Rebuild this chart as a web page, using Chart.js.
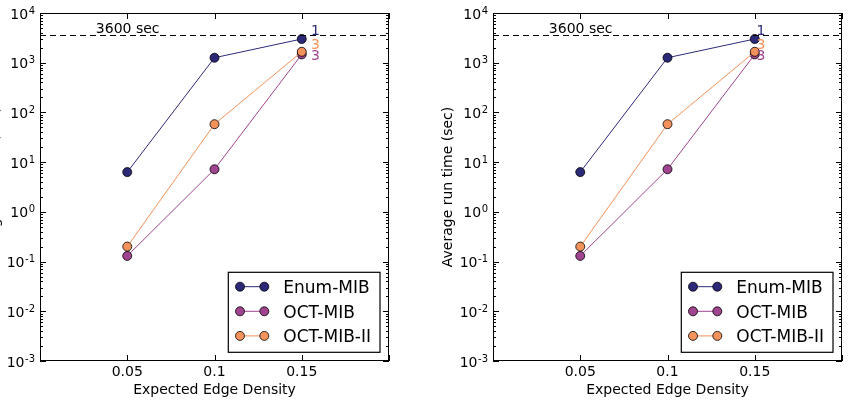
<!DOCTYPE html>
<html>
<head>
<meta charset="utf-8">
<script src="https://cdn.jsdelivr.net/npm/chart.js@4.4.1/dist/chart.umd.min.js"></script>
<style>
  html, body { margin: 0; padding: 0; background: #fff; overflow: hidden; }
  #wrap { position: relative; width: 848px; height: 400px; overflow: hidden; }
  .panel { position: absolute; top: 0; width: 453px; height: 400px; }
  #p1 { left: -58px; }
  #p2 { left: 395px; }
</style>
</head>
<body>
<div id="wrap">
  <div class="panel" id="p1"><canvas id="c1" width="453" height="400"></canvas></div>
  <div class="panel" id="p2"><canvas id="c2" width="453" height="400"></canvas></div>
</div>
<script>
// data
const densities = [0.05, 0.1, 0.15];
const enumMib = [6.3, 1260, 3000];
const octMib = [0.13, 7.2, 1470];
const octMib2 = [0.2, 58, 1660];
const seriesNames = ["Enum-MIB", "OCT-MIB", "OCT-MIB-II"];
const seriesColors = ["#2c2a78", "#a0448f", "#f3925a"];
const seriesOrder = [0, 2, 1]; // lower = drawn on top
const xTicks = [0.05, 0.1, 0.15];
const xTickLabels = ["0.05", "0.1", "0.15"];
const yExponents = [-3, -2, -1, 0, 1, 2, 3, 4];
const timeLimit = 3600;
const limitLabel = "3600 sec";
// end-of-line labels: text, y value, colour index
const endLabels = [["1", 4350, 0], ["3", 2270, 2], ["3", 1365, 1]];
const endLabelX = [0.1553, 0.1510];

const FONT = "'DejaVu Sans', sans-serif";

function pts(vals) {
    return densities.map((d, i) => ({ x: d, y: vals[i] }));
}

function makeDecorPlugin(panelIndex) {
    return {
        id: "decor" + panelIndex,
        afterDraw(chart) {
            const ctx = chart.ctx;
            const xs = chart.scales.x;
            const ys = chart.scales.y;
            const a = chart.chartArea;
            ctx.save();

            // dashed time limit line
            const yl = Math.round(ys.getPixelForValue(timeLimit)) + 0.5;
            ctx.strokeStyle = "#000";
            ctx.lineWidth = 1;
            ctx.setLineDash([6, 4]);
            ctx.beginPath();
            ctx.moveTo(a.left, yl);
            ctx.lineTo(a.right, yl);
            ctx.stroke();
            ctx.setLineDash([]);

            ctx.fillStyle = "#000";
            ctx.font = "14px " + FONT;
            ctx.textAlign = "left";
            ctx.textBaseline = "alphabetic";
            ctx.fillText(limitLabel, xs.getPixelForValue(0.032), yl - 2.5);

            // end labels
            ctx.textBaseline = "middle";
            endLabels.forEach(([t, v, c]) => {
                ctx.fillStyle = seriesColors[c];
                ctx.fillText(t, xs.getPixelForValue(endLabelX[panelIndex]), ys.getPixelForValue(v));
            });

            // frame
            ctx.strokeStyle = "#000";
            ctx.lineWidth = 1;
            ctx.strokeRect(a.left + 0.5, a.top + 0.5, a.right - a.left - 1, a.bottom - a.top - 1);

            // ticks inside, all sides
            ctx.beginPath();
            const xt = [0, ...xTicks, 0.2];
            xt.forEach((v) => {
                const px = Math.round(xs.getPixelForValue(v)) + 0.5;
                ctx.moveTo(px, a.bottom); ctx.lineTo(px, a.bottom - 6);
                ctx.moveTo(px, a.top); ctx.lineTo(px, a.top + 6);
            });
            yExponents.forEach((e) => {
                const py = Math.round(ys.getPixelForValue(Math.pow(10, e))) + 0.5;
                ctx.moveTo(a.left, py); ctx.lineTo(a.left + 6, py);
                ctx.moveTo(a.right, py); ctx.lineTo(a.right - 6, py);
                if (e < 4) {
                    for (let m = 2; m <= 9; m++) {
                        const pm = Math.round(ys.getPixelForValue(m * Math.pow(10, e))) + 0.5;
                        ctx.moveTo(a.left, pm); ctx.lineTo(a.left + 3, pm);
                        ctx.moveTo(a.right, pm); ctx.lineTo(a.right - 3, pm);
                    }
                }
            });
            ctx.stroke();

            // y tick labels 10^e
            ctx.fillStyle = "#000";
            ctx.textAlign = "right";
            ctx.textBaseline = "alphabetic";
            yExponents.forEach((e) => {
                const py = ys.getPixelForValue(Math.pow(10, e));
                const ex = String(e);
                ctx.font = "10px " + FONT;
                const ew = ctx.measureText(ex).width;
                const rx = a.left - 5;
                ctx.fillText(ex, rx, py + 0.5);
                ctx.font = "14px " + FONT;
                ctx.fillText("10", rx - ew - 0.5, py + 5.5);
            });

            // x tick labels
            ctx.textAlign = "center";
            ctx.font = "14px " + FONT;
            xTicks.forEach((v, i) => {
                ctx.fillText(xTickLabels[i], xs.getPixelForValue(v), a.bottom + 15);
            });

            // axis titles
            ctx.fillText("Expected Edge Density", (a.left + a.right) / 2, 394);
            ctx.save();
            ctx.translate(53, (a.top + a.bottom) / 2);
            ctx.rotate(-Math.PI / 2);
            ctx.textBaseline = "middle";
            ctx.fillText("Average run time (sec)", 0, 0);
            ctx.restore();

            // legend
            const lx = a.right - 160.7, ly = a.bottom - 88.7;
            const lw = 151.7, lh = 80;
            ctx.fillStyle = "#fff";
            ctx.fillRect(lx, ly, lw, lh);
            ctx.strokeStyle = "#000";
            ctx.lineWidth = 1.2;
            ctx.strokeRect(lx, ly, lw, lh);
            seriesNames.forEach((name, i) => {
                const ry = ly + 14.4 + i * 24.6;
                const m1 = lx + 11.7, m2 = lx + 36;
                ctx.strokeStyle = seriesColors[i];
                ctx.lineWidth = 1;
                ctx.beginPath();
                ctx.moveTo(m1, ry); ctx.lineTo(m2, ry);
                ctx.stroke();
                [m1, m2].forEach((mx) => {
                    ctx.beginPath();
                    ctx.arc(mx, ry, 4.5, 0, Math.PI * 2);
                    ctx.fillStyle = seriesColors[i];
                    ctx.fill();
                    ctx.lineWidth = 0.8;
                    ctx.strokeStyle = "#000";
                    ctx.stroke();
                });
                ctx.fillStyle = "#000";
                ctx.font = "17px " + FONT;
                ctx.textAlign = "left";
                ctx.textBaseline = "alphabetic";
                ctx.fillText(name, lx + 55, ry + 6.2);
            });

            ctx.restore();
        }
    };
}

function makeChart(id, panelIndex) {
    const ds = [enumMib, octMib, octMib2].map((vals, i) => ({
        label: seriesNames[i],
        data: pts(vals),
        order: seriesOrder[i],
        borderColor: seriesColors[i],
        backgroundColor: seriesColors[i],
        borderWidth: 1,
        pointRadius: 4.5,
        pointBorderColor: "#000",
        pointBorderWidth: 0.8,
        pointBackgroundColor: seriesColors[i],
        showLine: true,
        tension: 0,
    }));
    return new Chart(document.getElementById(id), {
        type: "scatter",
        data: { datasets: ds },
        options: {
            responsive: false,
            animation: false,
            events: [],
            layout: { padding: { top: 13, right: 6, left: 0, bottom: 0 } },
            plugins: { legend: { display: false }, tooltip: { enabled: false } },
            scales: {
                x: {
                    type: "linear",
                    min: 0,
                    max: 0.2,
                    grid: { display: false },
                    border: { display: false },
                    ticks: { display: false },
                    afterFit(scale) { scale.height = 39; },
                },
                y: {
                    type: "logarithmic",
                    min: 0.001,
                    max: 10000,
                    grid: { display: false },
                    border: { display: false },
                    ticks: { display: false },
                    afterFit(scale) { scale.width = 98; },
                },
            },
        },
        plugins: [makeDecorPlugin(panelIndex)],
    });
}

makeChart("c1", 0);
makeChart("c2", 1);
</script>
</body>
</html>
